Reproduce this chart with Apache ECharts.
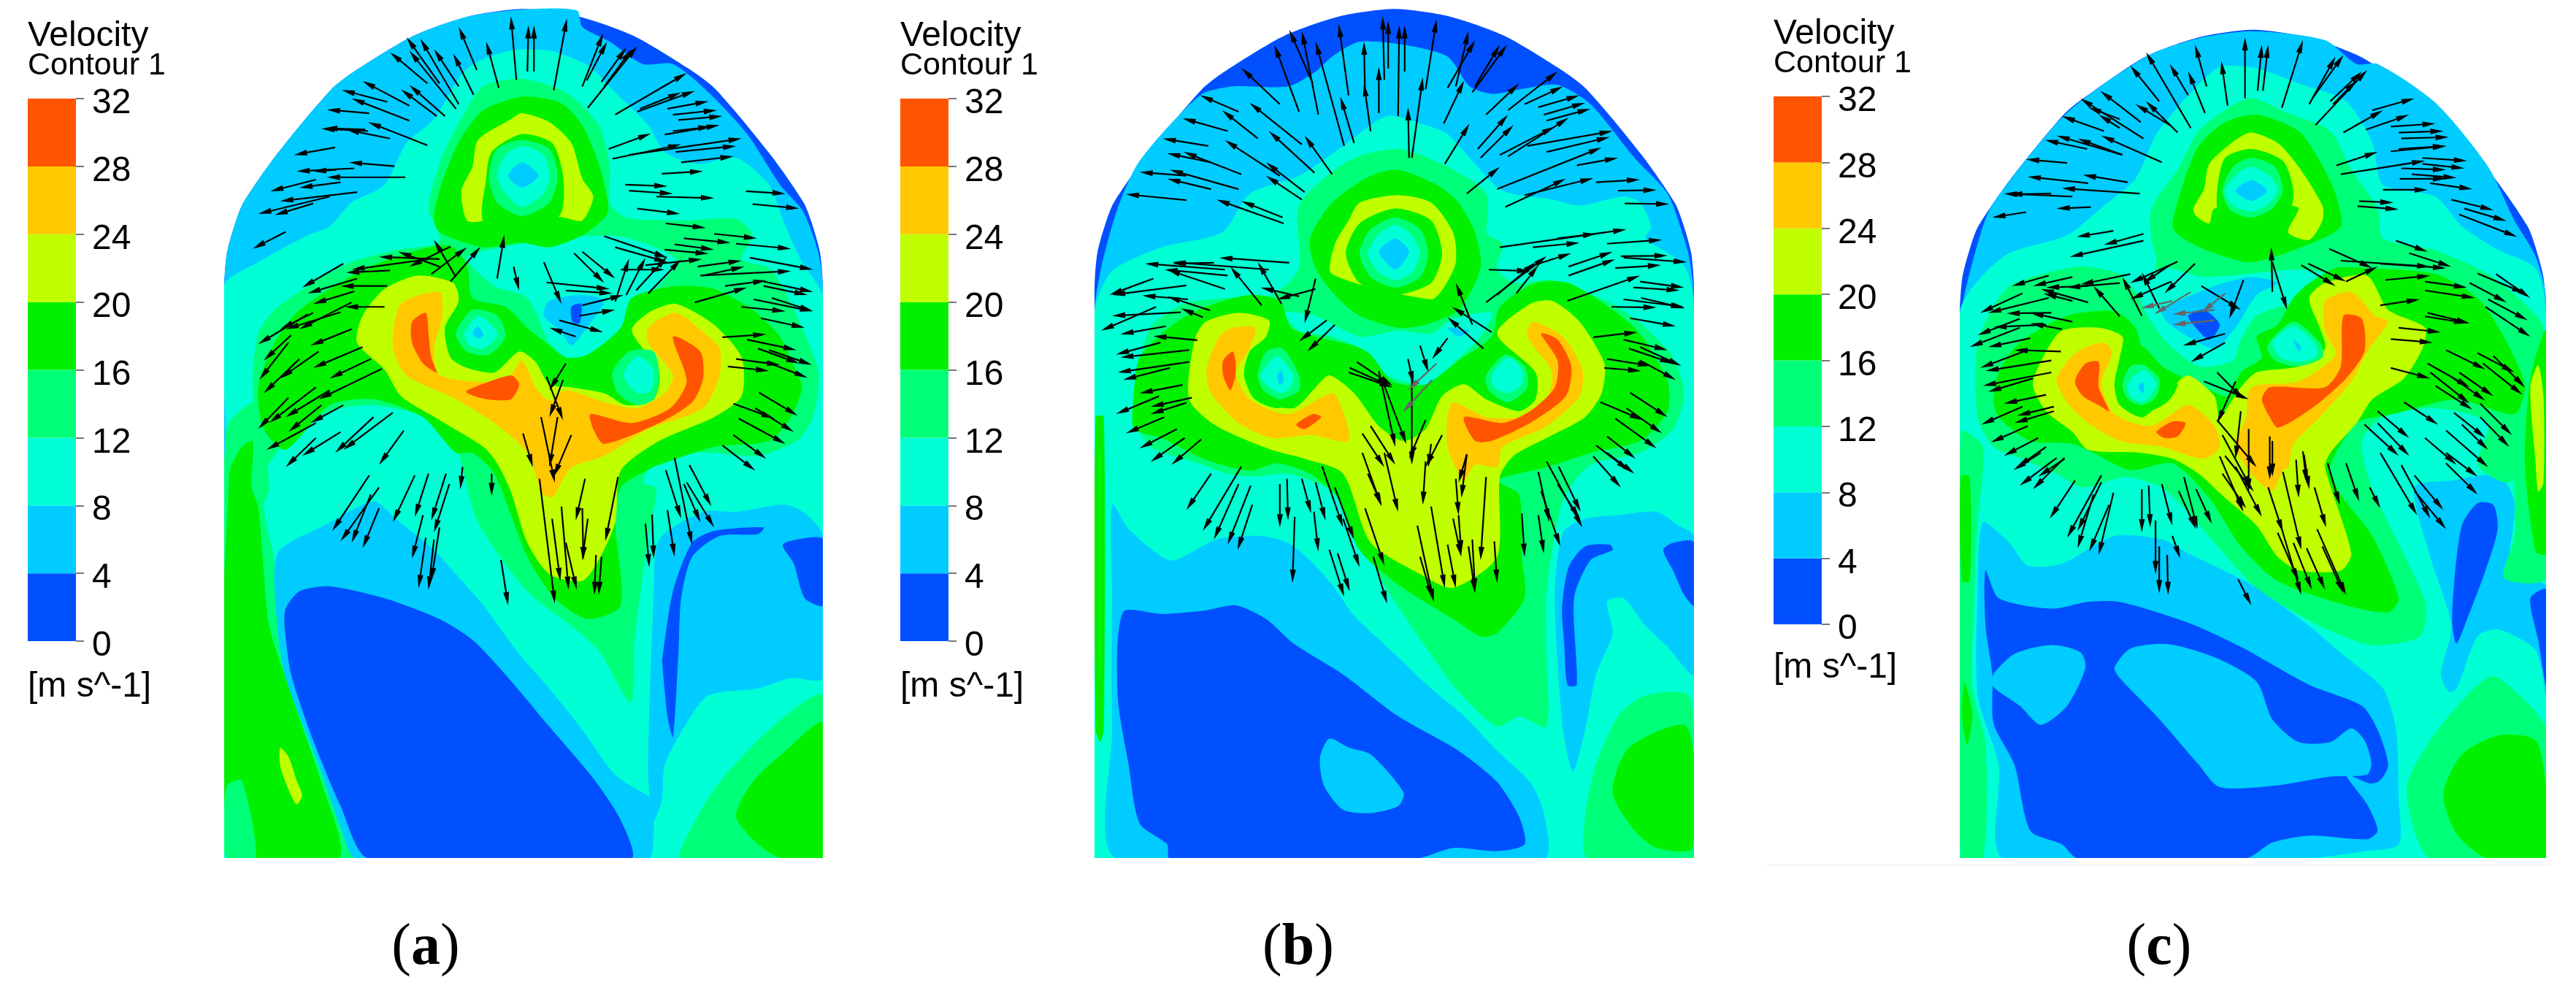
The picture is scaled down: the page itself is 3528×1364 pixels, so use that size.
<!DOCTYPE html>
<html>
<head>
<meta charset="utf-8">
<title>Velocity contours</title>
<script src="https://cdn.jsdelivr.net/npm/echarts@6/dist/echarts.min.js"></script>
<style>html,body{margin:0;background:#fff}#chart{width:3528px;height:1364px}</style>
</head>
<body>
<div id="chart"></div>
<script>
// velocity bands, 0-4 up to 28-32 m/s
var bandColors = ['#0050ff','#00ccff','#00ffd5','#00ff78','#00f000','#c0ff00','#ffc800','#ff5500'];
var bandWidths = [4,4,4,4,4,4,4,4];
var legendMax = 32;
var legendStep = 4;

// each region: [band, [x,y,x,y,...]] in chamber units, painted in order
var regionsA = [
[0,[408,970,413,850,428,750,443,680,503,520,603,300,653,230,753,120,853,55,953,30,1053,55,1153,120,1253,230,1303,300,1403,520,1463,680,1478,750,1493,850,1498,970,1498,2880,1498,2880,408,2880,408,2880]],
[1,[408,970,413,850,428,750,443,680,503,520,603,300,653,230,753,120,853,55,953,32,1050,35,1060,90,1110,140,1170,215,1225,215,1290,310,1360,450,1420,620,1462,710,1490,850,1498,970,1498,2880,1498,2880,408,2880,408,2880]],
[2,[408,960,470,880,560,790,600,760,640,680,700,620,740,480,790,400,850,230,930,170,1000,170,1070,220,1120,310,1180,420,1210,510,1270,550,1340,530,1400,620,1430,760,1460,880,1490,960,1498,1000,1498,2880,1498,2880,408,2880,408,2880,412,1500]],
[3,[412,1440,470,1350,490,1640,480,1700,498,1870,515,2230,560,2480,610,2700,652,2883,412,2883]],
[4,[417,1590,440,1500,460,1480,458,1636,470,1700,478,1869,490,2100,530,2330,580,2600,617,2883,417,2883]],
[3,[412,2640,440,2620,465,2883,412,2883]],
[5,[510,2510,525,2540,540,2620,550,2670,540,2700,525,2650,510,2570]],
[1,[505,1857,590,1764,680,1683,720,1741,790,1846,830,1927,880,2032,940,2183,1000,2311,1060,2450,1120,2601,1180,2671,1200,2694,1190,2753,1190,2799,1180,2883,650,2883,620,2776,580,2567,520,2276,505,2101]],
[0,[520,2043,545,1985,600,1968,700,2008,800,2078,860,2148,920,2264,1000,2439,1080,2613,1130,2753,1148,2883,672,2883,620,2706,570,2485,530,2264,518,2101]],
[3,[1240,2883,1270,2741,1310,2625,1400,2450,1498,2334,1498,2883]],
[4,[1498,2427,1430,2520,1370,2625,1340,2741,1380,2834,1425,2883,1498,2883]],
[1,[1200,1811,1280,1718,1340,1718,1430,1694,1470,1729,1498,1799,1498,2276,1440,2276,1380,2311,1290,2334,1250,2427,1210,2567,1205,2683,1190,2753,1180,2600,1190,2000]],
[0,[1205,2217,1225,1985,1260,1822,1300,1782,1390,1770,1380,1793,1310,1799,1260,1869,1240,2008,1235,2194,1225,2473,1215,2404,1205,2217]],
[0,[1425,1828,1470,1805,1498,1810,1498,2032,1465,2008,1445,1892]],
[3,[470,1120,500,1040,570,950,640,880,720,840,800,810,780,700,800,550,830,430,880,290,950,265,1030,310,1090,420,1110,560,1110,680,1140,730,1240,740,1340,735,1370,790,1350,870,1400,900,1430,980,1460,1100,1490,1250,1480,1400,1450,1480,1380,1530,1300,1520,1200,1530,1170,1620,1195,1640,1180,1800,1155,2150,1148,2357,1090,2183,1040,2101,960,1985,870,1753,840,1555,830,1500,770,1400,680,1360,600,1380,520,1480,480,1568,460,1300]],
[2,[850,860,1110,790,1230,870,1190,980,1150,1060,1130,1180,1060,1240,1030,1200,1000,1150,960,1000,900,960]],
[1,[1000,1010,1060,990,1100,1010,1060,1120,1040,1160,1020,1110,990,1060]],
[0,[1040,1030,1058,1020,1055,1085,1042,1080]],
[4,[480,1440,470,1300,500,1150,540,1050,600,970,680,890,760,840,820,825,850,890,860,1000,920,1030,960,1100,1000,1160,1030,1200,1070,1190,1130,1100,1150,1000,1230,960,1300,970,1370,1040,1420,1130,1450,1250,1460,1300,1440,1400,1400,1480,1300,1500,1200,1560,1190,1567,1130,1636,1120,1753,1130,2032,1070,2078,1010,2008,960,1869,900,1590,860,1520,830,1520,770,1400,680,1340,600,1360,520,1510]],
[4,[790,730,800,640,815,560,840,460,880,370,950,325,1020,345,1060,420,1090,550,1105,660,1105,720,1060,790,1000,830,950,815,880,830,800,780]],
[5,[850,740,840,640,860,560,870,470,930,400,950,380,1000,410,1040,480,1060,600,1080,660,1060,740,1025,730,900,700,880,740]],
[4,[880,745,885,600,895,510,950,450,1005,480,1025,590,1020,720,950,790]],
[3,[890,590,905,500,950,470,1000,500,1015,590,1000,680,950,725,905,680]],
[2,[905,590,920,520,950,490,990,520,1000,590,990,650,950,695,920,650]],
[1,[925,590,950,545,980,590,950,630]],
[5,[650,1150,660,1060,700,970,760,925,825,950,835,1010,810,1100,820,1200,850,1235,900,1250,945,1180,975,1215,1000,1290,1040,1300,1100,1320,1140,1360,1190,1340,1200,1250,1150,1110,1180,1050,1230,1020,1300,1090,1350,1200,1350,1330,1300,1400,1200,1480,1130,1580,1120,1753,1090,1880,1060,1950,1000,1927,960,1822,930,1650,905,1555,880,1500,800,1410,730,1330,700,1240]],
[6,[715,1160,730,1020,800,980,805,1060,790,1170,800,1260,920,1280,950,1210,975,1300,1000,1345,1030,1310,1100,1350,1160,1370,1210,1320,1225,1260,1180,1150,1180,1100,1230,1050,1290,1130,1310,1170,1310,1260,1280,1370,1180,1440,1100,1530,1040,1570,1010,1660,1000,1670,985,1648,960,1520,900,1420,830,1340,740,1260]],
[7,[750,1080,775,1050,780,1120,785,1200,795,1250,770,1220,750,1150]],
[7,[850,1310,930,1260,945,1290,930,1340,885,1340,850,1320]],
[7,[1075,1390,1150,1420,1220,1370,1250,1280,1225,1130,1275,1180,1280,1270,1260,1350,1200,1420,1100,1490,1080,1440]],
[3,[830,1120,860,1040,905,1060,920,1130,890,1190,850,1180]],
[2,[845,1120,870,1060,900,1100,905,1130,880,1170,855,1160]],
[1,[860,1120,870,1095,880,1125,870,1135]],
[3,[1115,1250,1145,1180,1190,1180,1200,1260,1190,1340,1160,1360,1125,1320]],
[2,[1135,1260,1160,1195,1190,1240,1185,1310,1160,1320]]
];

var regionsB = [
[0,[398,970,403,850,418,750,433,680,493,520,593,300,643,230,743,120,843,55,943,30,1043,55,1143,120,1243,230,1293,300,1393,520,1453,680,1468,750,1483,850,1488,970,1488,2880,1488,2880,398,2880,398,2880]],
[1,[398,1050,410,900,440,700,480,540,590,320,650,290,750,290,800,240,830,190,880,140,960,150,1040,190,1080,290,1120,315,1170,300,1240,285,1300,350,1380,530,1440,650,1470,800,1480,870,1488,1000,1488,2880,1488,2880,398,2880,398,2880]],
[2,[398,1050,430,910,520,830,630,780,680,650,770,590,850,490,930,390,1000,420,1040,450,1080,530,1140,640,1230,670,1280,690,1360,660,1390,680,1410,760,1400,800,1470,890,1488,1040,1488,2880,1488,2880,398,2880,398,2880]],
[4,[400,1400,415,1400,415,2450,408,2490,400,2450]],
[1,[430,1694,460,1776,520,1869,545,1881,620,1811,700,1799,750,1822,790,1881,830,1962,870,2067,930,2171,1010,2311,1070,2404,1130,2520,1190,2625,1215,2729,1215,2883,440,2883,430,2450,430,1985]],
[0,[450,2055,520,2061,600,2049,655,2032,710,2078,760,2160,850,2264,950,2404,1060,2520,1130,2625,1170,2741,1180,2834,1130,2857,1050,2846,980,2883,535,2883,530,2834,480,2764,460,2567,440,2334]],
[1,[825,2479,860,2509,900,2532,960,2660,950,2706,900,2729,850,2718,815,2636,808,2543]],
[1,[1250,1787,1290,1741,1350,1729,1420,1718,1460,1764,1488,1799,1488,2264,1440,2171,1400,2101,1360,2008,1330,2020,1340,2125,1310,2264,1290,2450,1268,2590,1250,2450,1240,2217,1235,1985]],
[0,[1248,2043,1260,1904,1290,1834,1335,1828,1340,1846,1300,1880,1270,2008,1275,2299,1258,2299,1252,2160]],
[0,[1432,1846,1450,1822,1488,1820,1488,2032,1470,1997,1450,1915]],
[3,[1295,2883,1290,2741,1310,2567,1350,2404,1400,2334,1478,2334,1488,2567,1488,2883]],
[4,[1340,2660,1370,2509,1475,2439,1485,2846,1420,2846,1380,2788]],
[3,[470,1300,500,1100,560,1020,640,1000,720,990,770,900,770,690,860,540,950,500,1040,560,1110,650,1110,780,1140,820,1130,900,1160,950,1230,940,1340,1020,1400,1100,1450,1200,1470,1320,1450,1440,1390,1520,1300,1560,1250,1680,1220,1985,1220,2217,1220,2439,1170,2404,1130,2439,1060,2322,1040,2276,940,2008,880,1810,830,1650,750,1590,690,1600,640,1590,580,1550,500,1500,470,1400]],
[2,[745,1050,800,1060,880,1130,950,1110,1010,1120,1050,1070,1120,1050,1100,1130,1050,1220,1000,1290,960,1280,920,1250,900,1190,830,1130,770,1110]],
[1,[1040,1100,1080,1110,1060,1130]],
[4,[470,1320,480,1200,540,1090,600,1030,680,990,735,1010,755,1100,800,1130,870,1160,900,1190,940,1280,1000,1290,1060,1210,1120,1130,1135,1030,1200,950,1260,950,1340,1040,1390,1120,1440,1280,1440,1380,1390,1480,1300,1520,1220,1568,1130,1613,1170,1660,1175,1869,1180,2008,1130,2125,1100,2136,1050,2078,950,1962,880,1846,840,1671,790,1590,730,1555,680,1580,600,1543,520,1470,470,1440]],
[3,[790,800,770,690,860,540,950,500,1040,560,1110,650,1110,780,1100,900,1060,1040,950,1100,840,1000]],
[4,[790,800,830,680,900,590,950,570,1020,620,1060,680,1090,780,1100,900,1060,1040,1000,1090,950,1100,880,1060,840,1000,800,900]],
[5,[830,920,835,820,860,740,880,680,950,655,1010,680,1050,780,1055,880,1035,960,1010,1005]],
[4,[855,850,880,750,945,700,1010,740,1030,850,1010,950,945,990,880,950]],
[3,[880,850,900,770,945,730,990,770,1005,850,990,930,945,965,900,930]],
[2,[895,850,915,785,945,755,975,790,990,850,975,915,945,940,915,915]],
[1,[915,845,945,800,970,845,945,905]],
[5,[570,1340,580,1140,600,1080,660,1050,715,1075,710,1130,680,1180,670,1260,690,1340,760,1370,800,1300,825,1260,870,1320,915,1430,960,1480,1000,1440,1030,1330,1070,1290,1110,1340,1170,1380,1200,1340,1200,1250,1130,1120,1190,1020,1230,1010,1280,1080,1325,1220,1320,1320,1290,1400,1220,1470,1160,1530,1135,1601,1130,1869,1050,1973,990,1927,900,1822,850,1590,780,1540,720,1510,620,1430]],
[6,[602,1240,625,1130,650,1100,690,1100,680,1170,655,1250,680,1340,750,1390,830,1320,850,1380,860,1480,790,1460,720,1470,660,1420,610,1320]],
[6,[1040,1400,1050,1350,1110,1400,1180,1400,1215,1370,1230,1250,1185,1130,1195,1080,1250,1130,1285,1240,1280,1330,1220,1430,1140,1500,1130,1568,1090,1560,1070,1613,1060,1590,1040,1500]],
[7,[632,1210,650,1180,655,1250,645,1310,632,1260]],
[7,[765,1425,795,1390,810,1400,780,1440]],
[7,[1070,1400,1140,1420,1190,1380,1235,1300,1240,1210,1210,1120,1240,1140,1265,1230,1255,1330,1190,1420,1120,1480,1090,1480]],
[4,[675,1270,690,1180,730,1150,775,1200,790,1280,770,1340,730,1370,690,1340]],
[3,[695,1260,710,1180,740,1170,770,1260,770,1310,735,1340,705,1310]],
[2,[700,1260,730,1195,760,1260,755,1300,735,1320,710,1290]],
[1,[730,1260,738,1245,742,1280,735,1290]],
[3,[1110,1260,1145,1190,1180,1230,1185,1300,1150,1350,1115,1310]],
[2,[1120,1260,1150,1200,1175,1240,1175,1290,1150,1320,1125,1300]]
];

var regionsC = [
[0,[396,1050,401,930,416,830,431,760,493,600,596,380,647,310,749,190,851,125,953,100,1055,125,1157,190,1259,310,1310,380,1413,600,1475,760,1490,830,1505,930,1510,1050,1510,2880,1510,2880,396,2880,396,2880]],
[1,[400,1050,410,950,440,760,460,680,596,385,750,190,851,128,953,105,1090,135,1150,215,1190,215,1300,345,1400,560,1450,740,1490,860,1510,1000,1510,2880,1510,2880,396,2880,396,2880]],
[2,[396,1050,480,860,600,790,670,690,730,600,770,450,830,320,890,225,960,230,1040,280,1130,340,1180,480,1200,620,1300,660,1350,760,1420,840,1490,900,1510,1050,1510,2880,1510,2880,396,2880,396,2880]],
[3,[398,1450,440,1500,430,1753,420,2300,445,2500,440,2883,398,2883]],
[4,[398,1600,415,1600,415,1950,400,1950]],
[4,[405,2290,420,2400,410,2500,400,2400]],
[1,[440,1753,490,1822,525,1898,590,1892,690,1799,780,1811,830,1857,950,1962,1060,2101,1130,2206,1200,2311,1225,2450,1230,2683,1230,2834,1170,2857,1040,2883,480,2883,470,2567,430,2334,430,1985]],
[0,[445,1915,470,2008,570,2043,640,2020,700,2020,830,2090,930,2171,1060,2299,1160,2369,1190,2450,1210,2567,1195,2619,1175,2630,1130,2600,1170,2700,1190,2788,1170,2817,1060,2805,990,2828,940,2881,620,2881,590,2834,530,2788,500,2567,460,2427,458,2264,445,2101]],
[1,[460,2264,500,2195,570,2165,625,2189,635,2241,600,2369,550,2433,510,2369,460,2305]],
[1,[690,2241,720,2177,790,2162,880,2206,960,2288,990,2415,1040,2491,1100,2491,1140,2445,1165,2485,1178,2560,1170,2600,1100,2607,1000,2636,890,2642,850,2567,770,2404,700,2276]],
[1,[1260,1636,1330,1613,1420,1596,1450,1683,1440,1869,1440,1939,1510,1968,1510,2334,1490,2183,1420,2113,1380,2136,1340,2311,1325,2322,1310,2264,1330,2101,1290,1869]],
[0,[1335,1962,1350,1764,1380,1689,1410,1695,1418,1776,1395,1915,1360,2078,1340,2160,1332,2101]],
[0,[1480,2008,1510,1979,1510,2299,1495,2148]],
[3,[1290,2883,1245,2648,1290,2485,1360,2334,1410,2270,1480,2369,1510,2450,1510,2883]],
[4,[1400,2883,1340,2799,1315,2665,1350,2532,1420,2468,1490,2485,1510,2650,1510,2883]],
[3,[1430,1940,1450,1800,1450,1520,1480,1200,1510,1120,1510,1940]],
[3,[430,1150,470,1000,500,950,620,895,700,920,745,1000,770,880,760,800,760,700,810,570,850,440,900,370,950,330,1020,380,1100,440,1140,570,1190,700,1200,800,1300,840,1400,920,1470,1020,1505,1100,1505,1500,1440,1620,1380,1560,1400,1420,1300,1370,1200,1400,1160,1480,1180,1640,1280,2020,1270,2136,1180,2165,1080,2101,960,1973,880,1822,830,1718,780,1636,710,1601,630,1636,580,1590,500,1530,460,1500,430,1400]],
[4,[1480,1270,1510,1110,1510,1860,1490,1850,1470,1560]],
[5,[1480,1300,1495,1225,1505,1330,1505,1620,1495,1650,1490,1550]],
[2,[740,1000,780,900,860,930,1030,905,1090,920,1050,1000,960,1060,930,1140,915,1210,850,1230,790,1150,760,1080]],
[1,[780,1040,880,960,950,930,1000,950,960,990,920,1100,880,1170,830,1130,790,1080]],
[0,[830,1060,860,1040,890,1090,870,1140,840,1090]],
[4,[460,1340,470,1250,510,1150,600,1060,690,1045,730,1100,745,1180,790,1240,850,1290,905,1330,930,1250,970,1200,960,1130,1000,1090,1030,1000,1060,950,1110,900,1170,900,1300,920,1380,1000,1420,1100,1450,1200,1470,1300,1450,1390,1340,1340,1220,1390,1150,1420,1100,1568,1120,1660,1180,1800,1230,2008,1210,2055,1130,2032,1000,1950,930,1834,870,1671,800,1555,720,1578,650,1520,610,1490,530,1480,470,1400]],
[4,[800,760,820,620,850,490,900,410,960,385,1040,440,1080,540,1110,650,1120,760,1060,820,950,880,880,850,820,800]],
[5,[840,700,860,635,870,550,920,470,950,445,1000,480,1040,560,1085,690,1085,740,1060,805,1020,780,1040,700,1020,690,880,700,870,750,845,725]],
[4,[885,640,900,530,950,500,1010,540,1030,640,1020,720,950,770,890,730]],
[3,[895,640,915,560,950,530,995,560,1010,640,990,700,950,730,910,705]],
[2,[900,640,925,580,950,560,985,590,1000,640,980,690,950,710,915,690]],
[1,[920,640,950,605,980,640,950,675]],
[5,[535,1290,560,1180,590,1110,660,1100,705,1130,700,1200,690,1290,700,1360,745,1400,800,1300,830,1260,880,1330,890,1400,930,1300,960,1250,1040,1230,1090,1170,1080,1100,1060,1000,1090,950,1170,925,1210,1040,1280,1100,1275,1170,1240,1270,1180,1340,1150,1420,1100,1520,1090,1568,1140,1857,1120,1915,1040,1915,1000,1869,960,1764,900,1671,850,1590,800,1540,740,1520,640,1510,610,1450,560,1380]],
[6,[580,1270,620,1180,670,1150,685,1185,665,1290,690,1390,760,1430,830,1360,880,1430,890,1500,860,1540,780,1500,700,1480,640,1420,600,1350]],
[6,[940,1400,950,1300,1040,1280,1110,1190,1090,1110,1090,1010,1140,980,1185,1060,1210,1080,1170,1180,1140,1280,1080,1400,1030,1490,1020,1568,1010,1578,990,1648,950,1590,920,1500]],
[7,[615,1280,635,1220,660,1215,660,1300,680,1380,660,1360,630,1330]],
[7,[770,1450,800,1415,825,1420,810,1465,785,1470]],
[7,[970,1340,985,1300,1090,1300,1120,1230,1125,1060,1160,1070,1165,1180,1130,1270,1080,1350,1040,1400,1000,1435,985,1400]],
[4,[695,1290,710,1200,740,1160,780,1230,810,1290,790,1350,745,1385,710,1340]],
[3,[705,1290,720,1230,745,1225,775,1270,770,1330,745,1360,715,1340]],
[2,[715,1290,745,1240,770,1290,745,1350,720,1330]],
[1,[735,1295,745,1285,745,1320,738,1310]],
[3,[980,1160,1030,1080,1080,1150,1085,1200,1040,1230,995,1210]],
[2,[990,1150,1030,1095,1070,1150,1075,1195,1040,1215,1005,1200]],
[1,[1030,1140,1045,1165,1040,1180]]
];

// arrows: tail x, tail y, head x, head y
var arrowsA = [
[940,268,930,55],[960,240,962,85],[972,240,972,85],[1008,303,1032,62],[1060,290,1098,112],[1068,270,1105,140],[1070,362,1160,155],[1095,275,1140,160],[1100,290,1150,165],[908,295,885,140],[868,235,835,90],[862,318,825,180],[835,290,790,165],[835,350,765,130],[800,280,740,125],[830,365,745,170],[778,280,710,175],[810,390,745,285],[795,390,730,300],[745,355,660,272],[745,405,640,330],[705,342,622,302],
[1120,385,1250,245],[1160,375,1265,305],[1165,365,1240,310],[1215,365,1290,340],[1225,385,1305,370],[1235,403,1315,390],[1210,452,1310,420],[1225,440,1295,425],[1108,500,1185,448],[1115,533,1240,485],[1145,520,1350,465],[1230,510,1340,490],[1240,545,1335,525],[1205,583,1280,575],[1138,620,1215,625],[1145,640,1225,650],[1195,660,1300,665],[1160,700,1238,718],[1358,642,1430,650],[1370,685,1455,700],[1212,750,1285,765],
[778,488,670,410],[670,440,585,432],[665,435,590,430],[710,465,630,435],[672,380,595,368],[610,495,535,520],[718,558,635,545],[645,565,540,575],[612,570,570,575],[738,595,595,595],[620,612,545,630],[575,603,492,642],[650,645,510,675],[570,683,500,722],[520,778,460,835],[600,660,470,718],
[1100,793,1215,865],[1120,830,1215,880],[1245,800,1330,815],[1300,785,1378,800],[1228,820,1300,838],[1210,838,1290,852],[1340,818,1440,835],[1365,865,1480,905],[1270,895,1350,875],[1275,925,1440,910],[1280,925,1355,895],[1175,890,1278,870],[1130,905,1210,905],[1180,985,1240,870],[1158,975,1215,860],[1120,1012,1145,868],[1140,990,1175,865],[1060,845,1120,935],[1045,850,1100,950],[990,880,1022,1020],[935,895,945,975],[905,935,918,788],[820,945,875,828],[785,920,850,830],[830,930,790,805],[800,895,725,845],[820,828,745,895],[800,870,690,862],[710,908,630,915],[780,870,640,905],[625,885,550,965],[650,935,560,985],[705,960,620,960],[645,978,570,1020],[700,1030,628,1030],
[995,948,1110,970],[1030,975,1115,985],[1060,1025,1135,990],[1055,1060,1120,1040],[1018,1075,1098,1115],[1048,1130,1000,1100],[1265,1015,1360,965],[1320,960,1395,942],[1390,945,1480,980],[1390,960,1470,990],[1372,1005,1480,1045],[1405,1000,1480,1045],[1350,1030,1430,1045],[1385,1068,1465,1100],[1315,1132,1395,1122],[1360,1140,1450,1175],[1380,1170,1455,1220],[1400,1175,1478,1225],[1340,1205,1420,1225],[1395,1215,1470,1268],[1325,1230,1400,1245],[1382,1318,1452,1395],[1335,1355,1410,1405],[1375,1370,1445,1450],[1345,1405,1430,1490],[1335,1460,1395,1540],[1315,1495,1375,1580],
[620,1048,520,1105],[640,1105,565,1160],[640,1015,545,1105],[570,1050,510,1105],[560,1055,470,1155],[660,1165,570,1235],[530,1125,480,1210],[525,1150,472,1275],[580,1180,510,1270],[545,1205,480,1320],[675,1205,600,1270],[695,1238,580,1340],[575,1300,490,1420],[525,1335,470,1440],[600,1310,520,1400],[585,1360,525,1450],[625,1360,565,1420],[575,1420,485,1510],[715,1385,625,1510],[680,1400,610,1520],[735,1445,690,1560],[620,1450,550,1530],[575,1470,520,1568],
[1030,1220,1000,1310],[995,1265,1025,1410],[1025,1275,1000,1400],[985,1400,1010,1620],[1015,1400,1000,1568],[1040,1460,1008,1600],[952,1455,970,1568],
[672,1596,605,1782],[690,1636,620,1817],[675,1660,640,1822],[690,1706,660,1840],[755,1596,715,1753],[780,1590,755,1735],[812,1590,785,1747],[818,1625,790,1787],[770,1729,750,1875],[775,1805,762,1974],[790,1811,780,1979],[800,1770,785,1950],[842,1567,838,1642],[895,1590,895,1665],[912,1880,925,2032],[982,1607,1010,2026],[1005,1741,1020,1950],[1022,1700,1035,1979],[1030,1822,1050,1979],[1065,1607,1048,1747],[1125,1601,1102,1816],[1060,1706,1062,1880],[1070,1741,1060,1880],[1085,1863,1082,1997],[1095,1869,1090,1997],
[1228,1537,1260,1828],[1212,1578,1240,1740],[1255,1561,1295,1700],[1250,1619,1300,1770],[1215,1712,1228,1869],[1175,1758,1182,1904],[1187,1727,1190,1875],[1245,1625,1275,1753]
];
var arrowsB = [
[925,268,922,55],[932,230,932,70],[950,390,952,85],[962,240,962,85],[970,530,968,360],[1000,300,1020,65],[975,530,995,260],[915,380,915,225],[900,440,888,280],[890,320,888,140],[860,320,842,80],[870,480,845,325],[852,490,800,140],[805,385,775,105],[795,280,752,100],[770,375,725,150],[735,350,665,228],
[1035,550,1080,415],[1033,415,1070,270],[1055,290,1078,105],[1040,295,1090,135],[1100,530,1160,420],[1095,500,1150,385],[1110,385,1170,280],[1085,310,1148,150],[1090,290,1135,150],[1150,370,1240,240],[1180,350,1250,290],[1205,360,1280,320],[1215,385,1290,345],[1220,405,1300,365],[1135,520,1235,425],[1150,525,1260,395],[1185,490,1340,440],[1220,510,1335,460],[1130,635,1320,495],[1275,555,1350,530],[1075,650,1135,560],[1145,695,1255,600],[1180,655,1305,598],[1310,612,1390,603],[1350,640,1420,638],[1362,683,1443,685],
[830,585,780,455],[798,580,715,440],[735,590,635,470],[780,645,710,545],[775,670,710,590],[740,730,665,675],[742,750,620,670],[775,485,680,345],[660,375,590,320],[695,465,630,370],[640,440,558,397],[605,490,522,465],[665,585,560,510],[610,545,530,515],[660,635,535,570],[610,635,530,600],[565,590,480,578],[565,672,455,652],
[1135,830,1365,770],[1195,830,1280,815],[1240,800,1310,785],[1330,818,1430,805],[1355,860,1440,858],[1360,865,1475,880],[1115,905,1190,910],[1180,900,1265,850],[1345,900,1428,890],[1260,895,1340,845],[1260,925,1345,870],[1110,1015,1220,860],[1130,990,1200,880],[1165,985,1205,890],[1258,1010,1390,925],[1390,945,1470,965],[1378,965,1462,975],[1360,1005,1470,1030],[1392,1000,1472,1035],[1338,1030,1420,1032],[1372,1068,1455,1095],[1305,1132,1385,1115],[1360,1140,1440,1175],[1370,1170,1450,1220],[1390,1165,1465,1228],[1330,1205,1410,1228],[1390,1210,1455,1275],[1325,1235,1392,1245],[1372,1318,1440,1400],[1318,1350,1395,1410],[1365,1370,1430,1455],[1345,1405,1420,1505],[1330,1465,1382,1540],[1310,1495,1370,1580],
[1120,1115,1048,1030],[1085,1090,1055,950],[1105,1170,1040,1065],[1040,1135,1012,1205],[990,1160,1005,1250],[968,1205,978,1290],[975,1270,975,1560],[875,1215,940,1295],[862,1235,935,1295],[860,1250,940,1300],[915,1245,945,1500],[920,1270,965,1490],[835,1090,785,1180],[820,1075,770,1145],
[800,935,780,1085],[800,970,730,1005],[770,995,700,965],[702,1025,645,895],[738,1020,695,880],[752,882,625,865],[715,905,540,880],[635,905,490,885],[615,882,540,885],[635,970,530,905],[640,925,525,905],[565,958,430,990],[505,935,425,990],[568,1005,485,992],[608,1042,530,995],[555,1048,430,1060],[595,1065,555,1035],[510,1030,410,1110],[528,1095,445,1122],[585,1142,505,1128],[518,1150,437,1190],[570,1175,445,1200],[570,1215,440,1250],[535,1235,450,1275],[558,1292,480,1320],[515,1330,437,1390],[575,1335,500,1365],[565,1352,500,1390],[525,1400,455,1455],[548,1440,480,1505],[562,1470,500,1550],[592,1475,538,1560],
[885,1455,925,1568],[900,1430,945,1560],[1000,1410,970,1540],[1030,1460,1000,1568],[1010,1490,1005,1568],[1075,1525,1060,1620],
[610,1590,565,1712],[665,1566,595,1782],[660,1625,615,1811],[682,1630,640,1828],[685,1694,658,1846],[735,1625,735,1770],[748,1607,750,1747],[762,1735,758,1956],[775,1607,792,1723],[800,1619,818,1747],[812,1566,850,1770],[835,1636,870,1811],[797,1718,805,1851],[850,1741,880,1904],[825,1845,852,2003],[840,1857,862,1985],[890,1706,925,1898],[905,1869,930,2026],[885,1520,920,1700],[895,1590,920,1695],[925,1520,950,1718],[985,1764,1015,2020],[1010,1700,1035,1973],[990,1869,1012,2008],[1040,1828,1055,1973],[1000,1549,995,1694],[1055,1607,1060,1729],[1050,1741,1065,1869],[1060,1729,1065,1857],[1078,1834,1090,1991],[1085,1811,1090,1985],[1125,1817,1130,1956],[1110,1601,1100,1880],[1075,1526,1065,1671],[1205,1584,1225,1752],[1220,1549,1285,1770],[1210,1648,1245,1834],[1242,1566,1282,1718],[1240,1625,1280,1741],[1175,1723,1180,1869],[1205,1729,1215,1857],[1305,1532,1355,1636],[1330,1520,1380,1590]
];
var arrowsBGray = [[1020,1220,968,1310],[1012,1275,958,1385]];
var arrowsC = [
[938,330,938,125],[962,305,970,150],[972,305,982,150],[1008,362,1048,135],[1060,350,1110,190],[1068,325,1125,185],[1072,420,1170,235],[1100,340,1160,240],[1105,350,1150,270],[905,355,893,205],[862,380,830,240],[865,290,843,150],[835,430,750,175],[830,320,795,215],[775,340,720,220],[810,445,750,340],[795,420,730,350],[740,410,663,305],[745,465,625,330],[700,400,640,360],[700,430,660,385],[670,440,590,390],[780,545,665,455],[705,520,580,455],[705,520,620,465],[638,500,558,470],[600,547,522,535],[640,615,525,593],[715,612,630,587],[738,650,590,632],[610,660,480,650],[570,650,490,652],[645,695,580,700],[522,712,458,730],[688,775,618,795],[745,785,670,822],[745,808,605,862],
[1180,370,1260,330],[1125,445,1200,370],[1168,435,1250,385],[1215,425,1300,415],[1230,445,1315,440],[1235,465,1325,460],[1215,508,1320,490],[1230,500,1320,490],[1112,555,1190,510],[1120,585,1280,540],[1235,565,1320,570],[1275,530,1360,540],[1275,550,1355,565],[1255,585,1340,597],[1232,600,1320,600],[1290,615,1370,635],[1200,637,1285,637],[1155,675,1220,680],[1152,692,1230,703],[1330,670,1410,705],[1355,700,1435,742],[1345,720,1455,795],[1225,808,1285,845],[1250,850,1330,895],[1120,875,1290,895],[1195,885,1320,900],
[1098,835,1180,900],[1058,885,1130,945],[1045,890,1110,960],[1130,945,1190,895],[1205,940,1290,925],[990,980,988,830],[990,880,1018,1040],[935,940,908,1070],[855,960,930,1040],
[843,885,785,985],[810,878,720,950],[795,890,745,950],[720,920,625,955],[700,950,600,965],[610,930,535,960],[565,925,495,960],[640,960,560,965],[700,1062,650,960],[742,1060,705,930],[775,1035,742,915],[798,945,720,1005],[900,1120,820,1160],[900,1150,835,1215],
[515,985,435,1050],[565,1000,450,1050],[610,1010,555,985],[640,1015,550,970],[570,1050,485,1052],[610,1080,530,1050],[510,1070,430,1125],[590,1105,530,1085],[560,1090,460,1098],[510,1100,415,1165],[530,1135,450,1165],[588,1180,500,1175],[525,1175,435,1235],[570,1210,445,1245],[570,1250,440,1295],[535,1270,450,1315],[560,1325,480,1355],[515,1365,437,1425],[575,1380,500,1420],[575,1365,505,1395],[525,1430,455,1485],[545,1470,480,1530],[560,1500,505,1568],[595,1540,545,1600],
[1195,1025,1270,1005],[1280,945,1360,965],[1280,975,1375,1000],[1365,950,1435,1015],[1415,920,1480,1000],[1380,918,1470,985],[1400,1005,1475,1075],[1395,1030,1480,1130],[1285,1050,1365,1085],[1280,1062,1360,1085],[1230,1100,1310,1115],[1215,1138,1295,1150],[1320,1175,1395,1240],[1380,1185,1450,1250],[1410,1195,1470,1300],[1390,1220,1465,1325],[1215,1235,1290,1270],[1285,1220,1365,1300],[1345,1250,1410,1330],[1290,1250,1365,1355],[1330,1265,1395,1345],[1300,1295,1370,1375],[1240,1350,1305,1425],[1335,1385,1395,1470],[1385,1355,1445,1460],[1190,1380,1250,1470],[1165,1425,1230,1530],[1190,1420,1250,1530],[1280,1470,1340,1560],[1320,1445,1400,1568],[1385,1400,1440,1500],[1350,1425,1400,1510],[1320,1520,1380,1600],
[860,1280,945,1340],[885,1250,935,1340],[920,1280,885,1420],[885,1410,960,1568],[930,1380,920,1540],[945,1440,945,1650],[985,1465,985,1610],[990,1480,990,1600],[1048,1515,1055,1620],[895,1460,950,1640],[900,1530,955,1650],
[550,1520,498,1578],[595,1537,535,1642],[580,1537,510,1630],[615,1613,567,1741],[665,1596,600,1805],[665,1619,620,1782],[650,1660,620,1840],[688,1654,660,1863],[680,1694,642,1851],[742,1642,742,1787],[755,1630,758,1770],[780,1625,800,1764],[768,1747,768,1927],[775,1834,775,1991],[790,1863,792,1997],[800,1799,815,1875],[822,1601,848,1776],[812,1648,845,1776],[845,1642,875,1758],[890,1532,935,1718],[895,1590,940,1706],[920,1566,970,1735],[982,1636,1010,1787],[1010,1584,1045,1845],[1005,1758,1045,1997],[1000,1788,1040,1950],[1030,1822,1065,1979],[1055,1840,1090,1979],[1070,1636,1092,1770],[1035,1543,1040,1671],[1050,1526,1060,1642],[1095,1555,1118,1694],[1130,1555,1155,1683],[1075,1776,1130,1997],[1085,1834,1125,1991],[1175,1636,1195,1706],[925,1945,950,2032],[1195,1520,1265,1729],[1235,1561,1290,1741],[1260,1596,1315,1712],[1260,1648,1320,1776],[1320,1555,1380,1660]
];
var arrowsCGray = [[835,980,765,1055],[800,1010,740,1035],[900,985,855,1050],[880,1040,800,1055],[880,1075,800,1090]];

var panelRange = {yMin:0, yMax:2880};
var panels = [
  {regions:regionsA, arrows:arrowsA, gray:[], xMin:408, xMax:1498, left:307, width:820, legendLeft:38, legendTop:135, legendHeight:743},
  {regions:regionsB, arrows:arrowsB, gray:arrowsBGray, xMin:398, xMax:1488, left:1499, width:821, legendLeft:1233, legendTop:135, legendHeight:743},
  {regions:regionsC, arrows:arrowsC, gray:arrowsCGray, xMin:396, xMax:1510, left:2684, width:803, legendLeft:2429, legendTop:132, legendHeight:723}
];

function regionItem(list){
    return function(params, api){
        var r = list[api.value(0)];
        var pts = [];
        for (var i = 0; i < r[1].length; i += 2) {
            pts.push(api.coord([r[1][i], r[1][i + 1]]));
        }
        return {type:'polygon', shape:{points:pts, smooth:0.25}, style:{fill:bandColors[r[0]]}};
    };
}
function arrowItem(color){
    return function(params, api){
        var a = api.coord([api.value(0), api.value(1)]);
        var b = api.coord([api.value(2), api.value(3)]);
        var dx = b[0] - a[0], dy = b[1] - a[1];
        var len = Math.sqrt(dx * dx + dy * dy) || 1;
        var ux = dx / len, uy = dy / len;
        var hl = 18, hw = 4;
        return {type:'group', children:[
            {type:'line', shape:{x1:a[0], y1:a[1], x2:b[0] - ux * hl, y2:b[1] - uy * hl}, style:{stroke:color, lineWidth:2.2}},
            {type:'polygon', shape:{points:[[b[0], b[1]],
                [b[0] - ux * hl - uy * hw, b[1] - uy * hl + ux * hw],
                [b[0] - ux * hl + uy * hw, b[1] - uy * hl - ux * hw]]}, style:{fill:color}}
        ]};
    };
}

var grid = [], xAxis = [], yAxis = [], series = [], graphic = [];
panels.forEach(function(p, k){
    grid.push({left:p.left, top:0, width:p.width, height:1175});
    xAxis.push({type:'value', gridIndex:2 * k, min:p.xMin, max:p.xMax, show:false});
    yAxis.push({type:'value', gridIndex:2 * k, min:panelRange.yMin, max:panelRange.yMax, inverse:true, show:false});
    grid.push({left:p.legendLeft, top:p.legendTop, width:66, height:p.legendHeight});
    xAxis.push({type:'category', gridIndex:2 * k + 1, data:['v'], show:false});
    yAxis.push({type:'value', gridIndex:2 * k + 1, min:0, max:legendMax, interval:legendStep, position:'right',
        splitLine:{show:false}, axisLine:{show:false},
        axisTick:{show:true, length:11, lineStyle:{color:'#777', width:2}},
        axisLabel:{show:true, margin:22, color:'#000', fontFamily:'Liberation Sans', fontSize:48, verticalAlign:'top', lineHeight:14}});
    series.push({type:'custom', xAxisIndex:2 * k, yAxisIndex:2 * k, coordinateSystem:'cartesian2d', clip:true,
        renderItem:regionItem(p.regions), silent:true, animation:false,
        data:p.regions.map(function(r, i){ return [i]; })});
    series.push({type:'custom', xAxisIndex:2 * k, yAxisIndex:2 * k, coordinateSystem:'cartesian2d', clip:false,
        renderItem:arrowItem('#000'), silent:true, animation:false, encode:{x:[0,2], y:[1,3]}, data:p.arrows});
    if (p.gray.length) {
        series.push({type:'custom', xAxisIndex:2 * k, yAxisIndex:2 * k, coordinateSystem:'cartesian2d', clip:false,
            renderItem:arrowItem('#666'), silent:true, animation:false, encode:{x:[0,2], y:[1,3]}, data:p.gray});
    }
    bandWidths.forEach(function(w, b){
        series.push({type:'bar', xAxisIndex:2 * k + 1, yAxisIndex:2 * k + 1, stack:'legend' + k, barWidth:'100%',
            silent:true, animation:false, itemStyle:{color:bandColors[b]}, data:[w]});
    });
    var shift = k === 2 ? -3 : 0;
    var shiftU = k === 2 ? -26 : 0;
    graphic.push({type:'text', x:p.legendLeft, y:50 + shift, style:{text:'Velocity', font:'48px "Liberation Sans"', fill:'#000', verticalAlign:'middle'}});
    graphic.push({type:'text', x:p.legendLeft, y:90 + shift, style:{text:'Contour 1', font:'43px "Liberation Sans"', fill:'#000', verticalAlign:'middle'}});
    graphic.push({type:'text', x:p.legendLeft, y:941 + shiftU, style:{text:'[m s^-1]', font:'48px "Liberation Sans"', fill:'#000', verticalAlign:'middle'}});
});
var captions = [['a',583],['b',1778],['c',2957]];
captions.forEach(function(c){
    graphic.push({type:'text', x:c[1], y:1299, style:{text:'{p|(}{b|' + c[0] + '}{p|)}', align:'center', verticalAlign:'middle', fill:'#000',
        rich:{p:{font:'80px "Liberation Serif"'}, b:{font:'bold 80px "Liberation Serif"'}}}});
});
graphic.push({type:'line', shape:{x1:2420, y1:1185, x2:3493, y2:1185}, style:{stroke:'#f3f3f3', lineWidth:2}});

var myChart = echarts.init(document.getElementById('chart'));
myChart.setOption({
    animation:false,
    backgroundColor:'#fff',
    grid:grid, xAxis:xAxis, yAxis:yAxis, series:series, graphic:graphic
});
</script>
</body>
</html>
